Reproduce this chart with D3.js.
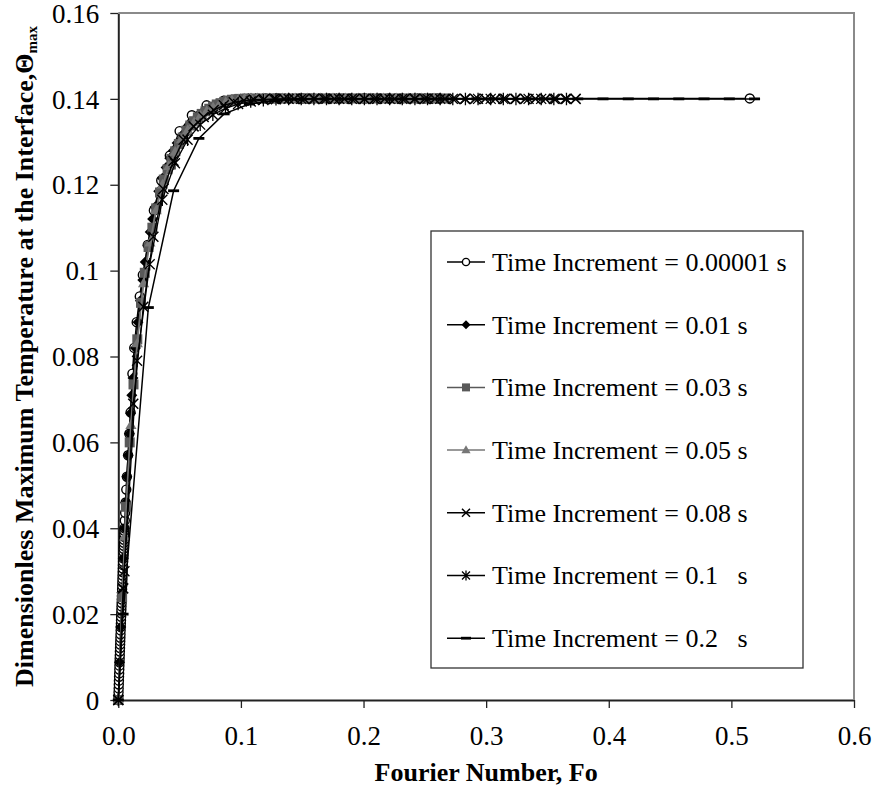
<!DOCTYPE html>
<html><head><meta charset="utf-8">
<script src="https://cdn.jsdelivr.net/npm/d3@7"></script>
<style>
body{margin:0;background:#fff}
svg{display:block}
text{font-family:"Liberation Serif","Times New Roman",serif;fill:#000}
</style></head>
<body><svg id="c" width="875" height="799"></svg>
<script>
// ---------- tick labels / categories ----------
const xTicks=[0,0.1,0.2,0.3,0.4,0.5,0.6];
const xTickLabels=["0.0","0.1","0.2","0.3","0.4","0.5","0.6"];
const yTicks=[0,0.02,0.04,0.06,0.08,0.10,0.12,0.14,0.16];
const yTickLabels=["0","0.02","0.04","0.06","0.08","0.1","0.12","0.14","0.16"];
const legendLabels=["Time Increment = 0.00001 s","Time Increment = 0.01 s","Time Increment = 0.03 s",
 "Time Increment = 0.05 s","Time Increment = 0.08 s","Time Increment = 0.1\u00A0\u00A0\u00A0s","Time Increment = 0.2\u00A0\u00A0\u00A0s"];

// ---------- series values (Fourier number, dimensionless max temperature) ----------
const fo1=[0,0.0001,0.0002,0.0003,0.0004,0.0005,0.0006,0.0007,0.0008,0.0009,0.0010,0.0011,0.0012,0.0013,0.0014,0.0015,0.0016,0.0017,0.0018,0.0019,0.0020,0.0021,0.0022,0.0023,0.0024,0.0025,0.0026,0.0027,0.0028,0.0029,0.0030,0.0031,0.0032,0.0033,0.0034,0.0035,0.0036,0.0037,0.0038,0.0039,0.0040,0.0041,0.0042,0.0043,0.0044,0.0045,0.0046,0.0047,0.0048,0.0049,0.0050,
 0.0053,0.0056,0.0060,0.0065,0.0070,0.0080,0.0090,0.0100,0.0115,0.0130,0.0150,0.0175,0.0200,0.0240,0.0290,0.0350,0.0420,0.0500,0.0600,0.0720,0.0860,0.1000,0.1200,0.1500,0.2000,0.2600,0.5150];
const th1=[0,0.0009,0.0018,0.0027,0.0036,0.0045,0.0054,0.0062,0.0071,0.0080,0.0088,0.0096,0.0104,0.0113,0.0121,0.0129,0.0137,0.0145,0.0153,0.0162,0.0170,0.0178,0.0186,0.0194,0.0202,0.0210,0.0218,0.0226,0.0234,0.0242,0.0250,0.0258,0.0266,0.0274,0.0282,0.0290,0.0298,0.0306,0.0314,0.0322,0.0330,0.0337,0.0345,0.0352,0.0359,0.0366,0.0373,0.0380,0.0387,0.0394,0.0400,
 0.0418,0.0436,0.0460,0.0490,0.0520,0.0570,0.0620,0.0670,0.0760,0.0820,0.0880,0.0940,0.0990,0.1060,0.1140,0.1210,0.1268,0.1325,0.1362,0.1385,0.1396,0.1400,0.1401,0.1401,0.1401,0.1401,0.1401];

const fo2=[0,0.001,0.002,0.003,0.004,0.005,0.006,0.007,0.008,0.009,0.010,0.011,0.012,0.014,0.016,0.018,0.020,0.022,0.024,0.026,0.028,0.030,0.033,0.036,0.039,0.042,0.045,0.048,0.052,0.056,0.060,0.065,0.070,0.075,0.080,0.085,0.090,0.095,0.100,0.106,0.112,0.118,0.124,0.130,0.136,0.142,0.148,0.154,0.160,0.166,0.172,0.178,0.184,0.190,0.196,0.202,0.208,0.214,0.220,0.226,0.232,0.238,0.244,0.250,0.256,0.262];
const th2=[0,0.0088,0.0170,0.0250,0.0330,0.0400,0.0460,0.0520,0.0570,0.0620,0.0668,0.0710,0.0750,0.0820,0.0880,0.0930,0.0978,0.1020,0.1058,0.1090,0.1120,0.1148,0.1185,0.1215,0.1240,0.1262,0.1280,0.1297,0.1315,0.1332,0.1345,0.1360,0.1371,0.1380,0.1387,0.1392,0.1396,0.1398,0.1400,
 0.1401,0.1401,0.1401,0.1401,0.1401,0.1401,0.1401,0.1401,0.1401,0.1401,0.1401,0.1401,0.1401,0.1401,0.1401,0.1401,0.1401,0.1401,0.1401,0.1401,0.1401,0.1401,0.1401,0.1401,0.1401,0.1401,0.1401];

const fo3=[0,0.0031,0.0062,0.0093,0.0124,0.0155,0.0185,0.0216,0.0247,0.0278,0.0309,0.0340,0.0371,0.0402,0.0433,0.0464,0.0494,0.0525,0.0556,0.0587,0.0618,0.0649,0.0680,0.0711,0.0742,0.0773,0.0803,0.0834,0.0865,0.0896,0.0927,0.0958,0.0989,
 0.1051,0.1113,0.1175,0.1236,0.1298,0.1360,0.1422,0.1484,0.1545,0.1607,0.1669,0.1731,0.1793,0.1854,0.1916,0.1978,0.2040,0.2102,0.2163,0.2225,0.2287,0.2349,0.2411,0.2472,0.2534,0.2596,0.2658];
const th3=[0,0.0240,0.0450,0.0600,0.0735,0.0840,0.0925,0.0995,0.1055,0.1100,0.1145,0.1182,0.1212,0.1236,0.1260,0.1278,0.1295,0.1310,0.1326,0.1338,0.1348,0.1357,0.1365,0.1371,0.1377,0.1382,0.1387,0.1390,0.1393,0.1396,0.1398,0.1399,0.1400,
 0.1401,0.1401,0.1401,0.1401,0.1401,0.1401,0.1401,0.1401,0.1401,0.1401,0.1401,0.1401,0.1401,0.1401,0.1401,0.1401,0.1401,0.1401,0.1401,0.1401,0.1401,0.1401,0.1401,0.1401,0.1401,0.1401,0.1401];

const fo4=[0,0.0052,0.0103,0.0155,0.0206,0.0258,0.0309,0.0361,0.0412,0.0464,0.0515,0.0567,0.0618,0.0670,0.0721,0.0773,0.0824,0.0876,0.0927,0.0979,0.1030,
 0.1082,0.1133,0.1185,0.1236,0.1288,0.1339,0.1391,0.1442,0.1494,0.1545,0.1597,0.1648,0.1700,0.1751,0.1803,0.1854,0.1906,0.1957,0.2009,0.2060,0.2112,0.2163,0.2215,0.2266,0.2318,0.2369,0.2421,0.2472,0.2524,0.2575,0.2627];
const th4=[0,0.0380,0.0640,0.0830,0.0970,0.1065,0.1140,0.1200,0.1243,0.1276,0.1305,0.1327,0.1345,0.1360,0.1371,0.1380,0.1387,0.1392,0.1396,0.1398,0.1400,
 0.1401,0.1401,0.1401,0.1401,0.1401,0.1401,0.1401,0.1401,0.1401,0.1401,0.1401,0.1401,0.1401,0.1401,0.1401,0.1401,0.1401,0.1401,0.1401,0.1401,0.1401,0.1401,0.1401,0.1401,0.1401,0.1401,0.1401,0.1401,0.1401,0.1401,0.1401];

const fo5=[0,0.0040,0.0122,0.0204,0.0286,0.0368,0.0450,0.0532,0.0614,0.0696,0.0778,0.0860,0.0942,0.1024,0.1106,0.1188,0.1270,0.1352,0.1434,0.1516,0.1598,0.1680,0.1762,0.1844,0.1926,0.2008,0.2090,0.2172,0.2254,0.2336,0.2418,0.2500,0.2582,0.2664,0.2746,0.2828,0.2910,0.2992,0.3074,0.3156,0.3238,0.3320,0.3402,0.3484,0.3566,0.3648,0.3730];
const th5=[0,0.0260,0.0690,0.0916,0.1079,0.1190,0.1256,0.1305,0.1336,0.1358,0.1374,0.1385,0.1392,0.1396,0.1398,0.1399,
 0.1400,0.1400,0.1400,0.1400,0.1400,0.1400,0.1400,0.1400,0.1400,0.1400,0.1400,0.1400,0.1400,0.1400,0.1400,0.1400,0.1400,0.1400,0.1400,0.1400,0.1400,0.1400,0.1400,0.1400,0.1400,0.1400,0.1400,0.1400,0.1400,0.1400,0.1400];

const fo6=[0,0.0050,0.0153,0.0256,0.0359,0.0462,0.0565,0.0668,0.0771,0.0874,0.0977,0.1080,0.1183,0.1286,0.1389,0.1492,0.1595,0.1698,0.1801,0.1904,0.2007,0.2110,0.2213,0.2316,0.2419,0.2522,0.2625,0.2728,0.2831,0.2934,0.3037,0.3140,0.3243,0.3346,0.3449,0.3552,0.3655];
const th6=[0,0.0300,0.0790,0.1015,0.1165,0.1250,0.1305,0.1340,0.1363,0.1378,0.1388,0.1394,0.1397,0.1399,
 0.1400,0.1400,0.1400,0.1400,0.1400,0.1400,0.1400,0.1400,0.1400,0.1400,0.1400,0.1400,0.1400,0.1400,0.1400,0.1400,0.1400,0.1400,0.1400,0.1400,0.1400,0.1400,0.1400];

const fo7=[0,0.0039,0.0245,0.0451,0.0657,0.0863,0.1069,0.1275,0.1481,0.1687,0.1893,0.2099,0.2305,0.2511,0.2717,0.2923,0.3129,0.3335,0.3541,0.3747,0.3953,0.4159,0.4365,0.4571,0.4777,0.4983,0.5189];
const th7=[0,0.0200,0.0914,0.1186,0.1308,0.1365,0.1388,0.1396,0.1399,
 0.1400,0.1400,0.1400,0.1400,0.1400,0.1400,0.1400,0.1400,0.1400,0.1400,0.1400,0.1400,0.1400,0.1400,0.1400,0.1400,0.1400,0.1400];

// ---------- layout & styles ----------
const svg=d3.select("#c");
const L=118.3,R=854,T=13,B=700;
const x=d3.scaleLinear().domain([0,0.6]).range([L,R]);
const y=d3.scaleLinear().domain([0,0.16]).range([B,T]);

function mk(fn){return {draw(c,size){fn(c,Math.sqrt(size)/2);}};}
const shapes={
 circle:mk((c,r)=>{c.moveTo(r,0);c.arc(0,0,r,0,2*Math.PI);}),
 diamond:mk((c,r)=>{c.moveTo(0,-r);c.lineTo(r,0);c.lineTo(0,r);c.lineTo(-r,0);c.closePath();}),
 square:mk((c,r)=>{c.rect(-r,-r,2*r,2*r);}),
 triangle:mk((c,r)=>{const h=r*1.732;c.moveTo(0,-h*0.62);c.lineTo(r,h*0.38);c.lineTo(-r,h*0.38);c.closePath();}),
 cross:mk((c,r)=>{c.moveTo(-r,-r);c.lineTo(r,r);c.moveTo(r,-r);c.lineTo(-r,r);}),
 star:mk((c,r)=>{c.moveTo(-r,-r);c.lineTo(r,r);c.moveTo(r,-r);c.lineTo(-r,r);c.moveTo(0,-r*1.25);c.lineTo(0,r*1.25);}),
 dash:mk((c,r)=>{c.rect(-r,-1.4,2*r,2.8);})
};
const styles=[
 {shape:"circle",r:4.5,lr:3.6,fill:"#fff",stroke:"#000",sw:1.4,line:"#000",lw:1.5},
 {shape:"diamond",r:5.5,lr:4.5,fill:"#000",stroke:"none",sw:0,line:"#000",lw:1.5},
 {shape:"square",r:5,lr:4,fill:"#595959",stroke:"none",sw:0,line:"#595959",lw:1.5},
 {shape:"triangle",r:5.6,lr:4.6,fill:"#777",stroke:"none",sw:0,line:"#777",lw:1.5},
 {shape:"cross",r:5,lr:4,fill:"none",stroke:"#000",sw:1.5,line:"#000",lw:1.3},
 {shape:"star",r:5,lr:4,fill:"none",stroke:"#000",sw:1.3,line:"#000",lw:1.3},
 {shape:"dash",r:5.5,lr:5,fill:"#000",stroke:"none",sw:0,line:"#000",lw:1.5}
];
const series=[[fo1,th1],[fo2,th2],[fo3,th3],[fo4,th4],[fo5,th5],[fo6,th6],[fo7,th7]]
 .map(([f,t])=>f.map((v,i)=>({fo:v,th:t[i]})));

// ---------- axes ----------
const gx=svg.append("g").attr("transform",`translate(0,${B})`)
 .call(d3.axisBottom(x).tickValues(xTicks).tickFormat((d,i)=>xTickLabels[i]).tickSize(8).tickSizeOuter(0));
gx.select(".domain").attr("stroke","#222").attr("stroke-width",2);
gx.selectAll(".tick line").attr("stroke","#222").attr("stroke-width",1.3);
gx.selectAll(".tick text").attr("font-size",27).attr("font-family","Liberation Serif").attr("y",0).attr("dy",0)
 .attr("transform","translate(0,45)");

const gy=svg.append("g").attr("transform",`translate(${L},0)`)
 .call(d3.axisLeft(y).tickValues(yTicks).tickFormat((d,i)=>yTickLabels[i]).tickSize(8).tickSizeOuter(0));
gy.select(".domain").attr("stroke","#222").attr("stroke-width",2);
gy.selectAll(".tick line").attr("stroke","#222").attr("stroke-width",1.3);
gy.selectAll(".tick text").attr("font-size",27).attr("font-family","Liberation Serif").attr("x",-19).attr("dy","0.34em");

// top & right border
svg.append("path").attr("d",`M${L},${T}H${R}V${B}`).attr("fill","none").attr("stroke","#8a8a8a").attr("stroke-width",2);

// ---------- series ----------
const line=d3.line().x(d=>x(d.fo)).y(d=>y(d.th));
const plot=svg.append("g");
series.forEach((pts,k)=>{
 const s=styles[k];
 plot.append("path").datum(pts).attr("d",line).attr("fill","none").attr("stroke",s.line).attr("stroke-width",s.lw);
 const sym=d3.symbol().type(shapes[s.shape]).size((2*s.r)**2);
 plot.append("g").selectAll("path").data(pts).join("path")
  .attr("transform",d=>`translate(${x(d.fo)},${y(d.th)})`).attr("d",sym)
  .attr("fill",s.fill).attr("stroke",s.stroke).attr("stroke-width",s.sw);
});

// ---------- legend ----------
const lg=svg.append("g");
lg.append("rect").attr("x",431).attr("y",231).attr("width",372).attr("height",437)
 .attr("fill","#fff").attr("stroke","#333").attr("stroke-width",1.3);
legendLabels.forEach((lab,k)=>{
 const s=styles[k], yy=262+k*62.7;
 lg.append("line").attr("x1",447).attr("x2",485).attr("y1",yy).attr("y2",yy).attr("stroke",s.line).attr("stroke-width",1.5);
 lg.append("path").attr("transform",`translate(466,${yy})`)
  .attr("d",d3.symbol().type(shapes[s.shape]).size((2*s.lr)**2)())
  .attr("fill",s.fill).attr("stroke",s.stroke).attr("stroke-width",s.sw);
 lg.append("text").attr("x",492).attr("y",yy).attr("dy","0.34em").attr("font-size",26).text(lab);
});

// ---------- axis titles ----------
svg.append("text").attr("x",(L+R)/2).attr("y",781).attr("text-anchor","middle")
 .attr("font-size",26).attr("font-weight","bold").text("Fourier Number, Fo");
const yt=svg.append("text").attr("transform",`translate(33,${(T+B)/2}) rotate(-90)`).attr("text-anchor","middle")
 .attr("font-size",26).attr("font-weight","bold");
yt.append("tspan").text("Dimensionless Maximum Temperature at the Interface,\u0398");
yt.append("tspan").attr("font-size",15).attr("dy",4).text("max");
</script></body></html>
